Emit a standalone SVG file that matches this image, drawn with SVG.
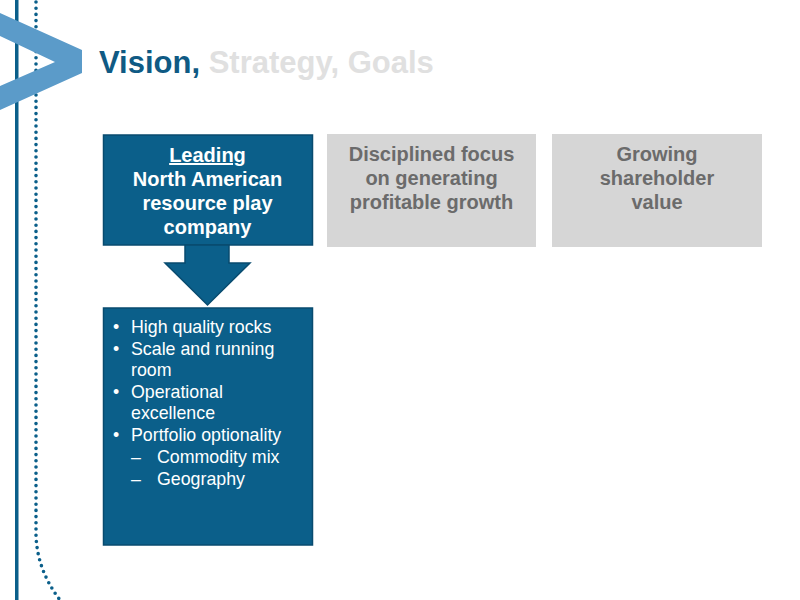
<svg xmlns="http://www.w3.org/2000/svg" width="800" height="600" viewBox="0 0 800 600">
<style>
.dark{fill:#0b5f8a;stroke:#084b6f;stroke-width:1.5}
.grey{fill:#d6d6d6}
.hw{font-family:"Liberation Sans",Arial,sans-serif;font-weight:bold;font-size:20px;fill:#ffffff;text-anchor:middle}
.hg{font-family:"Liberation Sans",Arial,sans-serif;font-weight:bold;font-size:20px;fill:#6b6b6b;text-anchor:middle}
.bl{font-family:"Liberation Sans",Arial,sans-serif;font-size:17.8px;fill:#ffffff}
</style>
<rect width="800" height="600" fill="#ffffff"/>
<g id="decor">
<rect x="15" y="0" width="3.5" height="600" fill="#0b5f8a"/>
<path d="M36,2 L36,535 Q37,570 60,600" fill="none" stroke="#0b5f8a" stroke-width="3.6" stroke-linecap="round" stroke-dasharray="0 6.2"/>
<polygon points="0,13 82,50 82,73 0,110 0,86 55,62 0,36" fill="#5b9bc9"/>
</g>
<g id="title">
<text x="99" y="73" font-family="Liberation Sans,Arial,sans-serif" font-weight="bold" font-size="31" fill="#0f5a84">Vision,<tspan fill="#e0e0e0"> Strategy, Goals</tspan></text>
</g>
<g id="vision">
<rect class="dark" x="103.5" y="135" width="209" height="110"/>
<text class="hw" x="207.5" y="162" text-decoration="underline">Leading</text>
<text class="hw" x="207.5" y="186">North American</text>
<text class="hw" x="207.5" y="210">resource play</text>
<text class="hw" x="207.5" y="234">company</text>
</g>
<g id="connectors">
<polygon points="185,245 229,245 229,263 250,263 207.5,305 165,263 185,263" fill="#0b5f8a" stroke="#084b6f" stroke-width="1.5"/>
</g>
<g id="details">
<rect class="dark" x="103.5" y="308" width="209" height="237"/>
<g class="bl">
<text x="113" y="333">•</text><text x="131" y="333">High quality rocks</text>
<text x="113" y="355">•</text><text x="131" y="355">Scale and running</text>
<text x="131" y="376">room</text>
<text x="113" y="398">•</text><text x="131" y="398">Operational</text>
<text x="131" y="419">excellence</text>
<text x="113" y="441">•</text><text x="131" y="441">Portfolio optionality</text>
<text x="131" y="463">–</text><text x="157" y="463">Commodity mix</text>
<text x="131" y="485">–</text><text x="157" y="485">Geography</text>
</g>
</g>
<g id="strategy">
<rect class="grey" x="327" y="134" width="209" height="113"/>
<text class="hg" x="431.5" y="161">Disciplined focus</text>
<text class="hg" x="431.5" y="185">on generating</text>
<text class="hg" x="431.5" y="209">profitable growth</text>
</g>
<g id="goals">
<rect class="grey" x="552" y="134" width="210" height="113"/>
<text class="hg" x="657" y="161">Growing</text>
<text class="hg" x="657" y="185">shareholder</text>
<text class="hg" x="657" y="209">value</text>
</g>
</svg>
